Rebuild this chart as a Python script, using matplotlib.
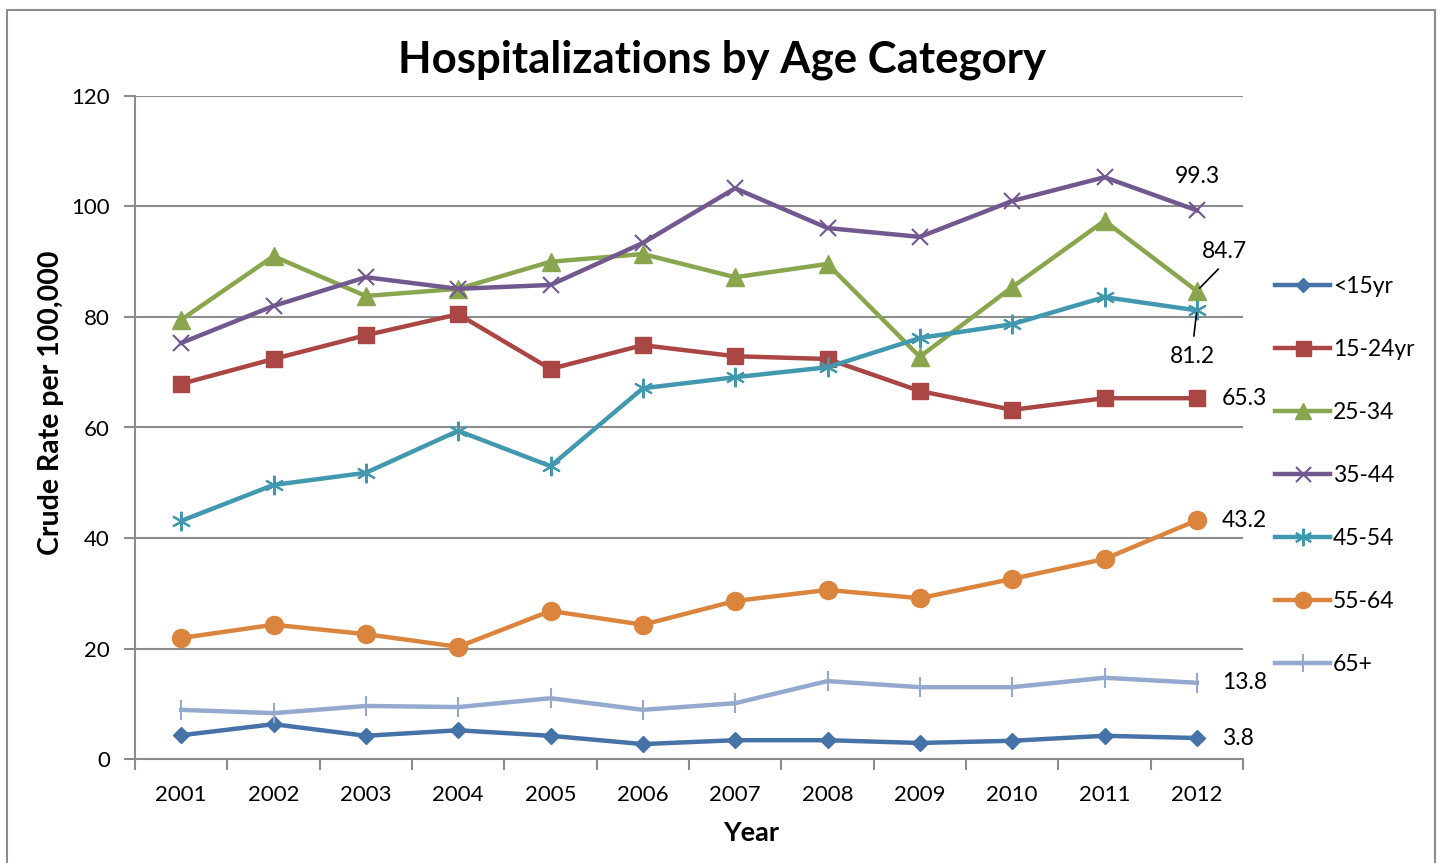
import matplotlib.pyplot as plt
import matplotlib.patches as patches
import numpy as np

plt.rcParams['font.family'] = ['Lato', 'DejaVu Sans']

years = [2001, 2002, 2003, 2004, 2005, 2006, 2007, 2008, 2009, 2010, 2011, 2012]

under15 = [4.3, 6.3, 4.2, 5.2, 4.2, 2.7, 3.4, 3.4, 2.9, 3.3, 4.2, 3.8]
age15_24 = [67.9, 72.4, 76.7, 80.5, 70.6, 74.9, 72.9, 72.4, 66.6, 63.2, 65.3, 65.3]
age25_34 = [79.5, 91.0, 83.8, 85.1, 90.0, 91.4, 87.2, 89.6, 72.8, 85.4, 97.4, 84.7]
age35_44 = [75.3, 82.0, 87.2, 85.1, 85.8, 93.4, 103.3, 96.1, 94.5, 101.0, 105.3, 99.3]
age45_54 = [43.1, 49.6, 51.8, 59.4, 53.0, 67.1, 69.1, 70.9, 76.2, 78.7, 83.6, 81.2]
age55_64 = [21.9, 24.3, 22.6, 20.3, 26.8, 24.3, 28.6, 30.6, 29.1, 32.6, 36.2, 43.2]
age65 = [8.9, 8.3, 9.6, 9.4, 11.0, 8.9, 10.1, 14.1, 13.0, 13.0, 14.7, 13.8]

names = ['<15yr', '15-24yr', '25-34', '35-44', '45-54', '55-64', '65+']
series = [under15, age15_24, age25_34, age35_44, age45_54, age55_64, age65]
colors = ['#4572A7', '#AA4643', '#89A54E', '#71588F', '#4198AF', '#DB843D', '#93A9CF']
markers = ['D', 's', '^', 'x', (6, 2, 0), 'o', '|']
msizes = [8, 12, 13, 12, 14, 13, 14]

fig = plt.figure(figsize=(14.47, 8.63), dpi=100)
ax = fig.add_axes([135/1447, 1 - 759/863, (1243-135)/1447, (759-96)/863])

fig.patches.append(patches.Rectangle((7/1447, -0.01), (1435-7)/1447, 1 - 10/863 + 0.01,
                                     transform=fig.transFigure, fill=False,
                                     edgecolor='#8c8c8c', lw=1.5))

for name, vals, c, m, ms in zip(names, series, colors, markers, msizes):
    mew = 1.5 if m in ('x', '|') or isinstance(m, tuple) else 1
    ax.plot(years, vals, color=c, lw=3.2, marker=m, markersize=ms,
            markeredgewidth=mew, markeredgecolor=c, markerfacecolor=c,
            label=name, clip_on=False)

ax.set_xlim(2000.5, 2012.5)
ax.set_ylim(0, 120)
ax.set_yticks(np.arange(0, 121, 20))
ax.set_xticks(years)
ax.set_xticks(np.arange(2000.5, 2013, 1), minor=True)
ax.tick_params(axis='x', which='major', length=0, pad=19, labelsize=16)
ax.tick_params(axis='x', which='minor', length=8, color='#8c8c8c', width=1.5)
ax.tick_params(axis='y', length=8, color='#8c8c8c', width=1.5, pad=10, labelsize=16)
ax.grid(axis='y', color='#8c8c8c', lw=1.5)
ax.set_axisbelow(True)
for s in ['top', 'right']:
    ax.spines[s].set_visible(False)
for s in ['left', 'bottom']:
    ax.spines[s].set_color('#8c8c8c')
    ax.spines[s].set_linewidth(1.5)

ax.set_xlabel('Year', fontsize=19.5, fontweight='bold')
ax.xaxis.set_label_coords((751 - 135) / 1108, -0.112)
ax.xaxis.label.set_va('center')
ax.set_ylabel('Crude Rate per 100,000', fontsize=20.5, fontweight='bold')
ax.yaxis.set_label_coords(-0.076, (759 - 403) / 663)
ax.yaxis.label.set_va('center')
fig.text(722/1447, 1 - 60/863, 'Hospitalizations by Age Category', ha='center', va='center',
         fontsize=31.5, fontweight='bold')

# data labels for 2012
ax.text(2012, age35_44[-1] + 4.3, '99.3', ha='center', va='bottom', fontsize=16.5)
ax.annotate('84.7', xy=(2012, age25_34[-1]), xytext=(2012.06, 91.8), ha='left', va='center',
            fontsize=16.5, arrowprops=dict(arrowstyle='-', color='black', lw=1.2, relpos=(0.5, 0),
                                           shrinkA=4, shrinkB=3))
ax.annotate('81.2', xy=(2012, age45_54[-1]), xytext=(2012.2, 72.9), ha='right', va='center',
            fontsize=16.5, arrowprops=dict(arrowstyle='-', color='black', lw=1.2, relpos=(0.5, 1),
                                           shrinkA=5, shrinkB=2))
for v in [age15_24[-1], age55_64[-1], age65[-1], under15[-1]]:
    ax.text(2012.27, v, '%.1f' % v, ha='left', va='center', fontsize=16.5)

leg = fig.legend(loc='upper left', bbox_to_anchor=(1264/1447, 1 - 265/863), frameon=False,
                 fontsize=16.5, handlelength=2.4, handletextpad=0.1, labelspacing=1.83,
                 borderpad=0)
for h in leg.legend_handles:
    h.set_markersize(h.get_markersize() * 0.9)

fig.savefig('out.png', dpi=100)
